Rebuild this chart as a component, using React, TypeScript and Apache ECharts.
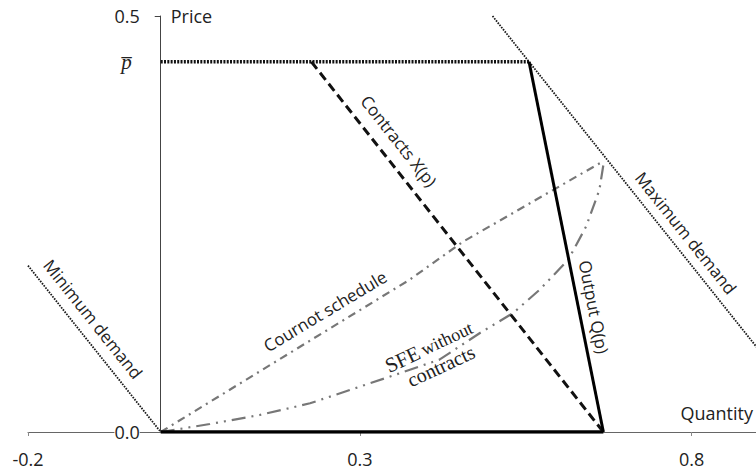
import React, { useEffect, useRef } from "react";
import * as echarts from "echarts";

// ---- data ----
const xTickValues = [-0.2, 0.3, 0.8];
const yLabelValues = [0, 0.445, 0.5];
const yTickValues = [0.5];
const pBar = 0.445;

const minimumDemand = [[-0.2, 0.2], [0, 0]];
const maximumDemand = [[0.5, 0.5], [0.9, 0.1]];
const priceCap = [[0, pBar], [0.555, pBar]];
const contractsX = [[0.227, pBar], [0.667, 0]];
const outputQ = [[0.555, pBar], [0.667, 0]];
const outputAtZero = [[0, 0], [0.667, 0]];
const cournotSchedule = [[0, 0], [0.129, 0.063], [0.375, 0.183], [0.456, 0.229], [0.668, 0.326]];
const sfeNoContracts = [
  [0, 0], [0.074, 0.0096], [0.149, 0.0204], [0.225, 0.0345], [0.3, 0.0545],
  [0.36, 0.0705], [0.42, 0.087], [0.481, 0.119], [0.531, 0.143], [0.571, 0.171],
  [0.614, 0.207], [0.641, 0.247], [0.661, 0.291], [0.668, 0.326],
];

const labelMinimum = "Minimum demand";
const labelMaximum = "Maximum demand";
const labelContracts = "Contracts X(p)";
const labelOutput = "Output Q(p)";
const labelCournot = "Cournot schedule";
const labelSfeTop = "SFE without";
const labelSfeBottom = "contracts";

const SANS = "'Open Sans', 'Noto Sans', sans-serif";
const SERIF = "'Liberation Serif', 'DejaVu Serif', serif";
const deg = (d: number) => (d * Math.PI) / 180;

const X_MIN = -0.2;
const X_MAX = 0.9;
const GRID_LEFT = 28;
const GRID_WIDTH = 730;

export default function App() {
  const ref = useRef<HTMLDivElement>(null);

  useEffect(() => {
    if (!ref.current) return;
    const chart = echarts.init(ref.current, undefined, { renderer: "svg" });

    const line = (data: number[][], style: any, z = 2) => ({
      type: "line",
      data,
      symbol: "none",
      silent: true,
      z,
      lineStyle: style,
    });

    const textEl = (text: string, x: number, y: number, rotDeg: number, size = 17) => ({
      type: "text",
      x,
      y,
      rotation: deg(rotDeg),
      z: 10,
      style: {
        text,
        font: `${size}px ${SANS}`,
        fill: "#222",
        align: "center",
        verticalAlign: "middle",
        textAlign: "center",
        textVerticalAlign: "middle",
      },
    });

    // y axis sits at x = 0: shift it from the grid's left edge by the scale distance
    const yAxisOffset = -((0 - X_MIN) / (X_MAX - X_MIN)) * GRID_WIDTH;

    chart.setOption({
      animation: false,
      backgroundColor: "#fff",
      grid: {
        left: GRID_LEFT,
        top: 16,
        width: GRID_WIDTH,
        height: 416,
        containLabel: false,
        outerBoundsMode: "none",
      },
      xAxis: {
        type: "value",
        min: X_MIN,
        max: X_MAX,
        name: "Quantity",
        nameLocation: "end",
        nameGap: 0,
        nameTextStyle: {
          fontFamily: SANS,
          fontSize: 18,
          color: "#222",
          align: "right",
          verticalAlign: "bottom",
          padding: [0, 5, 10, 0],
        },
        splitLine: { show: false },
        axisLine: { show: true, onZero: false, lineStyle: { color: "#666", width: 1 } },
        axisTick: { show: true, length: 4, lineStyle: { color: "#888" }, customValues: xTickValues },
        axisLabel: {
          customValues: xTickValues,
          margin: 18,
          fontFamily: SANS,
          fontSize: 18,
          color: "#222",
          formatter: (v: number) => v.toFixed(1),
        },
      },
      yAxis: {
        type: "value",
        min: 0,
        max: 0.5,
        offset: yAxisOffset,
        name: "Price",
        nameLocation: "end",
        nameGap: 0,
        nameTextStyle: {
          fontFamily: SANS,
          fontSize: 18,
          color: "#222",
          align: "left",
          verticalAlign: "middle",
          padding: [0, 0, 0, 10],
        },
        splitLine: { show: false },
        axisLine: { show: true, onZero: false, lineStyle: { color: "#444", width: 1 } },
        axisTick: { show: true, length: 6, lineStyle: { color: "#444" }, customValues: yTickValues },
        axisLabel: {
          customValues: yLabelValues,
          margin: 21,
          fontFamily: SANS,
          fontSize: 18,
          color: "#222",
          backgroundColor: "#fff",
          formatter: (v: number) => (Math.abs(v - pBar) < 1e-6 ? "{p|p\u0305}" : v.toFixed(1)),
          rich: {
            p: {
              fontFamily: SERIF,
              fontStyle: "italic",
              fontSize: 21,
              color: "#222",
              padding: [0, 8, 0, 0],
            },
          },
        },
      },
      series: [
        line(minimumDemand, { color: "#1a1a1a", width: 1.8, type: [1.6, 1.2] }),
        line(maximumDemand, { color: "#1a1a1a", width: 1.8, type: [1.6, 1.2] }),
        line(cournotSchedule, { color: "#777", width: 2.2, type: [8, 5, 2, 5] }),
        line(sfeNoContracts, { color: "#777", width: 2.2, type: [14, 6, 2, 6, 2, 6] }),
        line(priceCap, { color: "#111", width: 3.5, type: [2, 1.3] }, 3),
        line(contractsX, { color: "#111", width: 3, type: [9, 5] }, 3),
        line(outputQ, { color: "#000", width: 3, type: "solid" }, 3),
        line(outputAtZero, { color: "#000", width: 3.5, type: "solid" }, 3),
      ],
      graphic: [
        textEl(labelMinimum, 93, 319, -51.4),
        textEl(labelMaximum, 686, 233, -51.4),
        textEl(labelContracts, 399, 141, -51.7),
        textEl(labelOutput, 594, 307, -78.9),
        textEl(labelCournot, 325, 311, 31),
        {
          type: "text",
          x: 429,
          y: 347,
          rotation: deg(25),
          z: 10,
          style: {
            text: `{a|${labelSfeTop.split(" ")[0]}} {b|${labelSfeTop.split(" ")[1]}}`,
            align: "center",
            verticalAlign: "middle",
            textAlign: "center",
            textVerticalAlign: "middle",
            fill: "#222",
            rich: {
              a: { fontFamily: SERIF, fontSize: 21, fill: "#222", color: "#222" },
              b: { fontFamily: SERIF, fontSize: 18, fill: "#222", color: "#222" },
            },
          },
        },
        {
          type: "text",
          x: 441,
          y: 366,
          rotation: deg(25),
          z: 10,
          style: {
            text: labelSfeBottom,
            font: `20px ${SERIF}`,
            fill: "#222",
            align: "center",
            verticalAlign: "middle",
            textAlign: "center",
            textVerticalAlign: "middle",
          },
        },
      ],
    });

    return () => chart.dispose();
  }, []);

  return (
    <div
      ref={ref}
      style={{ position: "fixed", left: 0, top: 0, width: 756, height: 473, background: "#fff" }}
    />
  );
}
